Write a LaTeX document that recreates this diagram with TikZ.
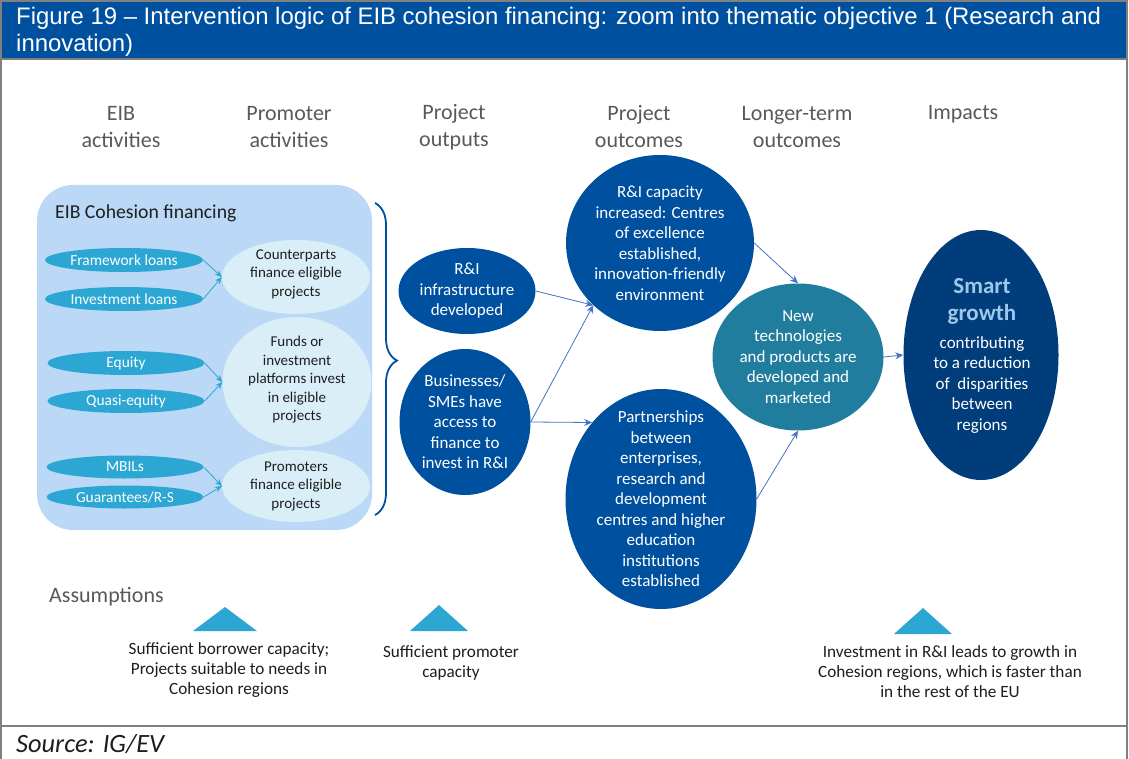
\documentclass[tikz,border=0pt]{standalone}
\usepackage{fontspec}
\setmainfont{Carlito}
\newfontfamily\arialf{Liberation Sans}
\usetikzlibrary{shapes.geometric,arrows.meta,decorations.pathreplacing}
\definecolor{titleblue}{RGB}{0,80,160}
\definecolor{darkc}{RGB}{0,80,160}
\definecolor{tealc}{RGB}{33,125,158}
\definecolor{navyc}{RGB}{0,61,122}
\definecolor{boxblue}{RGB}{187,217,246}
\definecolor{lightc}{RGB}{218,238,248}
\definecolor{smallc}{RGB}{44,167,212}
\definecolor{headgray}{RGB}{89,89,89}
\definecolor{framegray}{RGB}{128,128,128}
\definecolor{arrowc}{RGB}{68,114,196}
\definecolor{smartc}{RGB}{157,200,235}
\definecolor{txtdark}{RGB}{30,30,30}
\tikzset{
  ell/.style={ellipse, draw=none, inner sep=0pt, text width=0pt},
  smallell/.style={ell, fill=smallc},
  lightell/.style={ell, fill=lightc},
  darkell/.style={ell, fill=darkc},
  wtext/.style={text=white, align=center, inner sep=0pt, font=\fontsize{17}{20.5}\selectfont},
  stext/.style={text=white, align=center, inner sep=0pt, font=\fontsize{15.4}{17}\selectfont},
  ltext/.style={text=txtdark, align=center, inner sep=0pt, font=\fontsize{15}{18.5}\selectfont},
  head/.style={text=headgray, align=center, inner sep=0pt, font=\fontsize{22}{27}\selectfont},
  atext/.style={text=txtdark, align=center, inner sep=0pt, font=\fontsize{17.2}{20}\selectfont},
  arr/.style={draw=arrowc, line width=0.8pt, -{Stealth[length=8pt,width=7pt]}},
  sarr/.style={draw=smallc, line width=0.8pt, -{Stealth[length=7pt,width=6pt]}},
  tri/.style={fill=smallc, draw=none}
}
\begin{document}
\begin{tikzpicture}[x=1pt,y=-1pt]
\useasboundingbox (0,0) rectangle (1129,759);
% frame
\fill[white] (0,0) rectangle (1129,759);
\fill[titleblue] (1,1) rectangle (1127,59);
\draw[framegray, line width=2pt] (1,1) rectangle (1127,59);
\draw[framegray, line width=2pt] (1,59) -- (1,759);
\draw[framegray, line width=2pt] (1127,59) -- (1127,759);
\draw[framegray, line width=2pt] (1,726) -- (1127,726);
\node[anchor=west, text=white, inner sep=0pt, font=\arialf\fontsize{23.9}{27}\selectfont] (title1) at (16,18) {Figure 19 – Intervention logic of EIB cohesion financing: zoom into thematic objective 1 (Research and};
\node[anchor=west, text=white, inner sep=0pt, font=\arialf\fontsize{23.9}{27}\selectfont] (title2) at (16,45) {innovation)};
\node[anchor=west, text=txtdark, inner sep=0pt, font=\itshape\fontsize{26.4}{29}\selectfont] (src) at (16,744) {Source: IG/EV};

% headers
\node[head] (h1) at (121,127) {EIB\\activities};
\node[head] (h2) at (289,127) {Promoter\\activities};
\node[head] (h3) at (454,127) {Project\\outputs};
\node[head] (h4) at (639,127) {Project\\outcomes};
\node[head] (h5) at (797,127) {Longer-term\\outcomes};
\node[head] (h6) at (963,114) {Impacts};

% big box
\fill[boxblue, rounded corners=36pt] (37,185) rectangle (372,530);
\node[anchor=west, text=txtdark, inner sep=0pt, font=\fontsize{19.7}{23}\selectfont] (ebox) at (55,213) {EIB Cohesion financing};

% small ellipses
\node[smallell, minimum width=158pt, minimum height=24pt] (fl) at (124,260) {};
\node[stext] at (fl) {Framework loans};
\node[smallell, minimum width=158pt, minimum height=24pt] (il) at (124,299) {};
\node[stext] at (il) {Investment loans};
\node[smallell, minimum width=157pt, minimum height=24pt] (eq) at (126,363) {};
\node[stext] at (eq) {Equity};
\node[smallell, minimum width=157pt, minimum height=24pt] (qe) at (126,401) {};
\node[stext] at (qe) {Quasi-equity};
\node[smallell, minimum width=157pt, minimum height=23pt] (mb) at (125,467) {};
\node[stext] at (mb) {MBILs};
\node[smallell, minimum width=157pt, minimum height=23pt] (gu) at (125,497) {};
\node[stext] at (gu) {Guarantees/R-S};

% light ellipses
\node[lightell, minimum width=148pt, minimum height=74pt] (cp) at (296,277) {};
\node[ltext] at (296,274) {Counterparts\\finance eligible\\projects};
\node[lightell, minimum width=149pt, minimum height=130pt] (fu) at (297,382) {};
\node[ltext] at (297,380) {Funds or\\investment\\platforms invest\\in eligible\\projects};
\node[lightell, minimum width=148pt, minimum height=72pt] (pr) at (296,486) {};
\node[ltext] at (296,486) {Promoters\\finance eligible\\projects};

\draw[sarr] (fl.east) -- (cp.west);
\draw[sarr] (il.east) -- (cp.west);
\draw[sarr] (eq.east) -- (fu.west);
\draw[sarr] (qe.east) -- (fu.west);
\draw[sarr] (mb.east) -- (pr.west);
\draw[sarr] (gu.east) -- (pr.west);

% brace
\coordinate (bt) at (375,203);
\coordinate (bb) at (375,515);
\draw[darkc, line width=1.8pt, decorate, decoration={brace, amplitude=22pt, aspect=0.505}] (bt) -- (bb);

% outputs
\node[darkell, minimum width=137pt, minimum height=86pt] (inf) at (467,291) {};
\node[wtext] at (inf) {R\&I\\infrastructure\\developed};
\node[darkell, minimum width=131pt, minimum height=146pt] (biz) at (465,422) {};
\node[wtext] at (biz) {Businesses/\\SMEs have\\access to\\finance to\\invest in R\&I};

% outcomes
\node[darkell, minimum width=188pt, minimum height=176pt] (cap) at (660,243) {};
\node[wtext] at (cap) {R\&I capacity\\increased: Centres\\of excellence\\established,\\innovation-friendly\\environment};
\node[darkell, minimum width=191pt, minimum height=220pt] (part) at (661,499) {};
\node[wtext] at (part) {Partnerships\\between\\enterprises,\\research and\\development\\centres and higher\\education\\institutions\\established};

% longer-term
\node[ell, fill=tealc, minimum width=171pt, minimum height=147pt] (nt) at (798,357) {};
\node[wtext] at (nt) {New\\technologies\\and products are\\developed and\\marketed};

% impacts
\node[ell, fill=navyc, minimum width=155pt, minimum height=250pt] (sg) at (981,355) {};
\node[text=smartc, align=center, inner sep=0pt, font=\bfseries\fontsize{23}{27}\selectfont] (sgt) at (982,301) {Smart\\growth};
\node[wtext] (sgd) at (982,385) {contributing\\to a reduction\\of\ \ disparities\\between\\regions};

% arrows
\draw[arr] (inf.east) -- (cap.223);
\draw[arr] (biz.east) -- (cap.223);
\draw[arr] (biz.east) -- (part.132);
\draw[arr] (cap.east) -- (nt.north);
\draw[arr] (part.east) -- (nt.south);
\draw[arr] (nt.east) -- (sg.west);

% assumptions
\node[anchor=west, text=headgray, inner sep=0pt, font=\fontsize{22}{26}\selectfont] (ass) at (49,597) {Assumptions};
\fill[tri] (193,631) -- (225,607) -- (257,631) -- cycle;
\fill[tri] (410,631) -- (439,605) -- (468,631) -- cycle;
\fill[tri] (894,634) -- (923,608) -- (952,634) -- cycle;
\node[atext] (a1) at (229,670) {Sufficient borrower capacity;\\Projects suitable to needs in\\Cohesion regions};
\node[atext] (a2) at (451,663) {Sufficient promoter\\capacity};
\node[atext] (a3) at (950,672) {Investment in R\&I leads to growth in\\Cohesion regions, which is faster than\\in the rest of the EU};
\end{tikzpicture}
\end{document}
